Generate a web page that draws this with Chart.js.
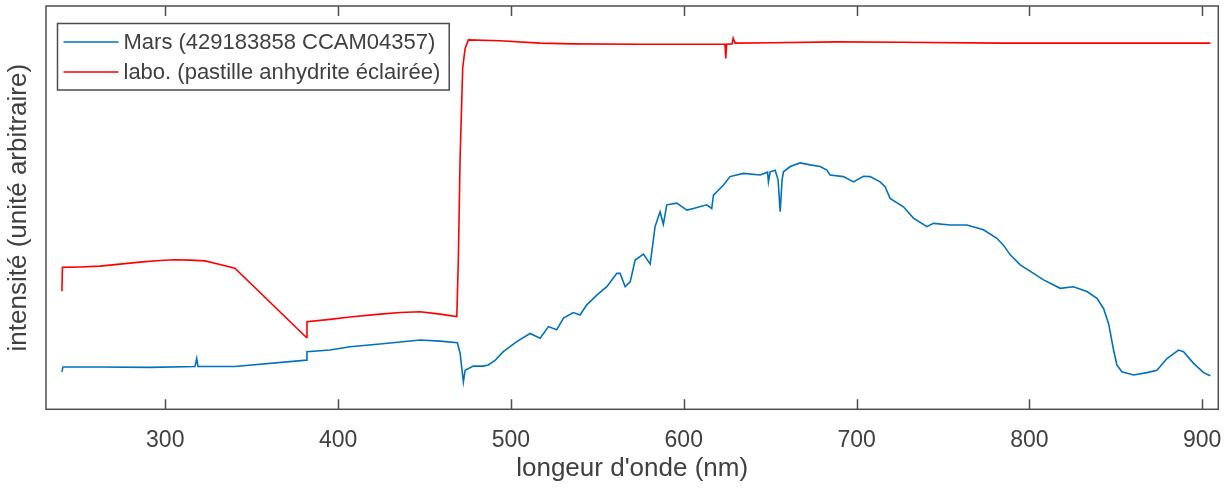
<!DOCTYPE html>
<html>
<head>
<meta charset="utf-8">
<script src="https://cdn.jsdelivr.net/npm/chart.js@4.4.0/dist/chart.umd.min.js"></script>
<style>
  body { margin: 0; background: #fff; }
  #wrap { width: 1224px; height: 490px; }
</style>
</head>
<body>
<div id="wrap"><canvas id="spectre"></canvas></div>
<script>
// longueurs d'onde (nm) et intensités (unité arbitraire, 0-100)
const xTicks = [300, 400, 500, 600, 700, 800, 900];

const marsLabel = "Mars (429183858 CCAM04357)";
const marsNm = [240.2, 240.8, 262.2, 291.2, 317.2, 318.2, 318.9, 340.3, 381.7, 382.0,
  395.3, 406.9, 424.3, 447.5, 459.0, 469.0, 470.6, 472.5, 473.5, 478.3,
  484.0, 486.9, 490.8, 495.6, 503.4, 511.1, 516.9, 521.7, 526.5, 530.4,
  536.1, 540.0, 543.9, 549.7, 555.5, 561.3, 563.2, 566.1, 569.0, 571.9,
  576.7, 580.6, 583.4, 586.3, 588.2, 590.2, 596.0, 601.8, 605.6, 613.3,
  616.2, 617.2, 623.0, 626.8, 634.5, 644.2, 648.5, 649.0, 650.0, 652.9,
  654.6, 655.8, 656.9, 657.7, 661.6, 667.3, 673.1, 678.9, 682.8, 684.7,
  692.4, 698.2, 704.0, 707.9, 713.6, 716.5, 719.4, 727.1, 732.9, 740.7,
  744.5, 754.2, 763.8, 773.4, 781.2, 785.0, 788.9, 794.7, 802.4, 808.2,
  817.8, 825.5, 833.3, 839.1, 842.9, 845.8, 848.7, 850.6, 853.5, 860.3,
  868.0, 873.8, 879.6, 886.3, 889.2, 895.0, 900.8, 904.7];
const marsVal = [9.3, 10.5, 10.5, 10.4, 10.6, 12.6, 10.6, 10.6, 12.2, 14.3,
  14.7, 15.5, 16.2, 17.2, 16.9, 16.5, 13.9, 6.8, 9.7, 10.7,
  10.7, 11.0, 12.1, 14.3, 16.8, 18.8, 17.6, 20.5, 19.7, 22.6,
  24.0, 23.4, 25.9, 28.3, 30.4, 33.7, 33.7, 30.4, 31.6, 37.0,
  38.5, 36.0, 45.3, 49.0, 45.9, 50.7, 51.1, 49.4, 49.8, 50.7,
  49.8, 53.1, 55.6, 57.7, 58.5, 58.1, 58.8, 56.4, 58.9, 59.3,
  56.9, 49.0, 56.9, 58.9, 60.2, 61.1, 60.6, 60.2, 59.3, 58.1,
  57.7, 56.4, 57.8, 57.7, 56.4, 55.2, 52.3, 50.2, 47.4, 45.3,
  46.1, 45.7, 45.7, 44.5, 42.4, 40.7, 38.3, 35.8, 33.7, 32.1,
  30.0, 30.4, 29.2, 27.5, 25.0, 21.3, 14.7, 11.0, 9.3, 8.5,
  9.1, 9.7, 12.6, 14.7, 14.3, 11.4, 9.1, 8.3];

const laboLabel = "labo. (pastille anhydrite éclairée)";
const laboNm = [240.2, 240.5, 250.6, 262.2, 273.8, 285.4, 296.9, 305.6,
  314.3, 323.0, 331.7, 340.3, 381.7, 382.0, 395.3, 406.9, 424.3, 435.9,
  447.5, 459.0, 468.7, 469.6, 470.6, 472.1, 473.5, 475.4, 493.7,
  516.9, 536.0, 574.7, 613.3, 623.9, 624.3, 624.8, 628.0, 628.6, 629.7,
  651.7, 688.6, 725.2, 783.1, 841.0, 904.7];
const laboVal = [29.3, 35.2, 35.3, 35.5, 36.0, 36.5, 36.9, 37.1,
  37.0, 36.8, 35.9, 35.0, 17.8, 21.7, 22.3, 22.9, 23.6, 24.0,
  24.2, 23.6, 23.0, 37.5, 62.3, 84.6, 89.5, 91.6, 91.4,
  90.8, 90.6, 90.5, 90.5, 90.5, 87.0, 90.5, 90.6, 92.0, 90.8,
  90.9, 91.1, 91.0, 90.8, 90.8, 90.8];

const xMin = 231, xMax = 909.3;
const police = '"Liberation Sans", Arial, Helvetica, sans-serif';
const gris = '#404040';

function points(xs, ys) {
  return xs.map((x, i) => ({ x: x, y: ys[i] }));
}

// cadre, graduations intérieures et légende façon MATLAB
const cadre = {
  id: 'cadre',
  afterDatasetsDraw(chart) {
    const { ctx, chartArea: a, scales } = chart;
    ctx.save();
    ctx.strokeStyle = '#4d4d4d';
    ctx.lineWidth = 1.5;
    ctx.strokeRect(a.left, a.top, a.right - a.left, a.bottom - a.top);
    ctx.beginPath();
    xTicks.forEach(v => {
      const px = Math.round(scales.x.getPixelForValue(v)) + 0.5;
      ctx.moveTo(px, a.bottom); ctx.lineTo(px, a.bottom - 10);
      ctx.moveTo(px, a.top); ctx.lineTo(px, a.top + 10);
    });
    ctx.stroke();

    // légende
    const ds = chart.data.datasets;
    ctx.font = '22px ' + police;
    const largeur = Math.max(...ds.map(d => ctx.measureText(d.label).width));
    const bx = a.left + 11.5, by = a.top + 17.5;
    const bw = 66 + largeur + 9, bh = 66.5;
    ctx.fillStyle = '#fff';
    ctx.fillRect(bx, by, bw, bh);
    ctx.strokeRect(bx, by, bw, bh);
    ds.forEach((d, i) => {
      const ly = by + 18.5 + i * 30;
      ctx.strokeStyle = d.borderColor;
      ctx.lineWidth = 1.5;
      ctx.beginPath();
      ctx.moveTo(bx + 6, ly); ctx.lineTo(bx + 61, ly);
      ctx.stroke();
      ctx.fillStyle = gris;
      ctx.textBaseline = 'middle';
      ctx.fillText(d.label, bx + 66, ly + 1);
    });
    ctx.restore();
  }
};

new Chart(document.getElementById('spectre'), {
  type: 'line',
  data: {
    datasets: [
      { label: marsLabel, data: points(marsNm, marsVal), borderColor: '#0072BD', borderWidth: 1.6, pointRadius: 0, tension: 0 },
      { label: laboLabel, data: points(laboNm, laboVal), borderColor: '#FF0000', borderWidth: 1.6, pointRadius: 0, tension: 0 }
    ]
  },
  options: {
    responsive: true,
    maintainAspectRatio: false,
    animation: false,
    layout: { padding: { top: 6, right: 5.7, left: 0, bottom: 0 } },
    plugins: { legend: { display: false }, tooltip: { enabled: false } },
    scales: {
      x: {
        type: 'linear',
        min: xMin,
        max: xMax,
        afterBuildTicks: s => { s.ticks = xTicks.map(v => ({ value: v })); },
        afterFit: s => { s.height = 80.7; s.paddingLeft = 0; s.paddingRight = 0; },
        grid: { display: false, drawTicks: false },
        border: { display: false },
        ticks: { color: gris, font: { family: police, size: 23 }, padding: 18, maxRotation: 0 },
        title: { display: true, text: "longeur d'onde (nm)", color: gris, font: { family: police, size: 26 }, padding: { top: 0, bottom: 6 } }
      },
      y: {
        min: 0,
        max: 100,
        afterFit: s => { s.width = 46; },
        grid: { display: false, drawTicks: false },
        border: { display: false },
        ticks: { display: false },
        title: { display: true, text: 'intensité (unité arbitraire)', color: gris, font: { family: police, size: 26 }, padding: { top: 3.5, bottom: 0 } }
      }
    }
  },
  plugins: [cadre]
});
</script>
</body>
</html>
